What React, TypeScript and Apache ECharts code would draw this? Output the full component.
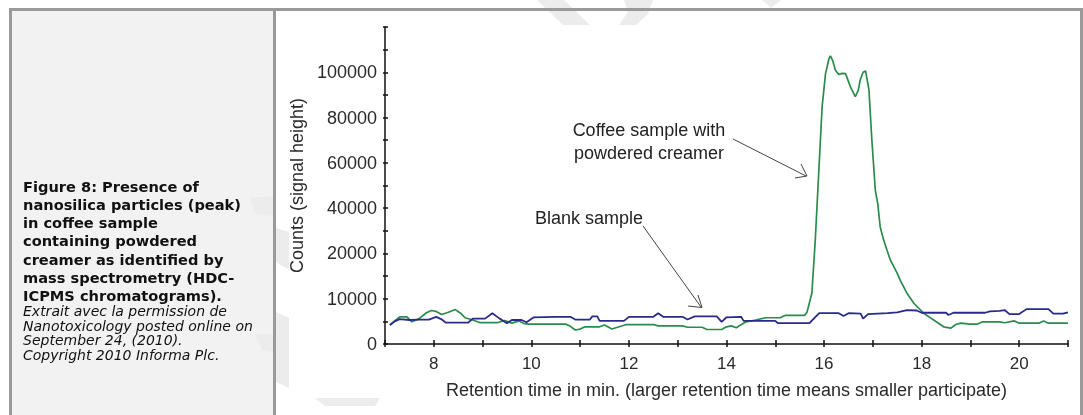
import React, { useEffect, useRef } from "react";
import * as echarts from "echarts";

// ---- data ----
const blankTime = [7.1, 7.2, 7.3, 7.5, 7.7, 7.9, 8.05, 8.15, 8.25, 8.7, 8.8, 9.05, 9.2, 9.35, 9.5, 9.6, 9.8, 9.9, 10.05, 10.5, 10.8, 10.9, 11.2, 11.25, 11.35, 11.4, 11.9, 12.0, 12.5, 12.6, 12.7, 13.1, 13.2, 13.35, 13.8, 13.9, 14.0, 14.3, 14.35, 15.0, 15.05, 15.7, 15.8, 15.9, 16.3, 16.4, 16.5, 16.75, 16.8, 16.9, 17.3, 17.5, 17.7, 17.9, 18.0, 18.5, 18.55, 18.65, 19.3, 19.4, 19.6, 19.7, 19.8, 20.0, 20.15, 20.6, 20.7, 20.9, 21.0];
const blankCounts = [4200, 5000, 5500, 5300, 5400, 5400, 6000, 5500, 4700, 4700, 5600, 5600, 6800, 5600, 4600, 5300, 5300, 4800, 5900, 6000, 6000, 5400, 5400, 6100, 6100, 5100, 5100, 6000, 6000, 6800, 6000, 6000, 5400, 6100, 6100, 4900, 5900, 6000, 5100, 5100, 4600, 4600, 5700, 6800, 6800, 6200, 6800, 6700, 5600, 6600, 6800, 7000, 7500, 7400, 6900, 6900, 6400, 6900, 6900, 7200, 7300, 7500, 6600, 6600, 7700, 7700, 6700, 6700, 7000];

const coffeeTime = [7.1, 7.3, 7.45, 7.55, 7.7, 7.85, 7.95, 8.05, 8.16, 8.3, 8.44, 8.55, 8.64, 8.8, 8.95, 9.3, 9.45, 9.6, 9.75, 9.85, 9.95, 10.7, 10.8, 10.9, 11.0, 11.1, 11.4, 11.5, 11.65, 11.8, 11.95, 12.5, 12.6, 13.1, 13.2, 13.5, 13.6, 13.9, 14.0, 14.1, 14.2, 14.4, 14.6, 14.8, 15.1, 15.2, 15.6, 15.65, 15.75, 15.82, 15.89, 15.96, 16.03, 16.1, 16.13, 16.18, 16.23, 16.3, 16.37, 16.44, 16.54, 16.64, 16.7, 16.74, 16.8, 16.85, 16.92, 16.98, 17.05, 17.1, 17.15, 17.22, 17.29, 17.36, 17.43, 17.5, 17.56, 17.7, 17.84, 18.04, 18.15, 18.3, 18.45, 18.6, 18.7, 18.8, 19.0, 19.15, 19.25, 19.6, 19.7, 19.9, 20.0, 20.4, 20.5, 20.6, 21.0];
const coffeeCounts = [4200, 6000, 6000, 4900, 5600, 6900, 7400, 7200, 6500, 7000, 7600, 6800, 5800, 5300, 4700, 4700, 5200, 4600, 5100, 4500, 4400, 4400, 3900, 3100, 3300, 3800, 3800, 4200, 3300, 3800, 4300, 4300, 4000, 4000, 3700, 3700, 3200, 3200, 3800, 4000, 3600, 4900, 5300, 5800, 5800, 6300, 6300, 7000, 11200, 26000, 55400, 84800, 99400, 106000, 107200, 105000, 101000, 99000, 99500, 99400, 93600, 89200, 92000, 96600, 100000, 100600, 92200, 70000, 48000, 42000, 31800, 26000, 21400, 18500, 17100, 15600, 14100, 11200, 9000, 6800, 6000, 4900, 3800, 3500, 4300, 4600, 4400, 4400, 4900, 4900, 4700, 5100, 4600, 4600, 5100, 4600, 4600];

const yTickLabels = ["0", "10000", "20000", "40000", "60000", "80000", "100000", ""];
const xTickLabels = ["8", "10", "12", "14", "16", "18", "20"];

const caption = [
  "Figure 8: Presence of",
  "nanosilica particles (peak)",
  "in coffee sample",
  "containing powdered",
  "creamer as identified by",
  "mass spectrometry (HDC-",
  "ICPMS chromatograms).",
];
const credit = [
  "Extrait avec la permission de",
  "Nanotoxicology posted online on",
  "September 24, (2010).",
  "Copyright 2010 Informa Plc.",
];

// broken y scale: 0-20000 in steps of 10000, then steps of 20000
const toAxis = (v: number) => (v <= 20000 ? v / 10000 : 2 + (v - 20000) / 20000);

const SANS = "'Liberation Sans', Arial, sans-serif";
const CAP = "'DejaVu Sans', Verdana, sans-serif";
const WM = "#ececec";

export default function App() {
  const ref = useRef<HTMLDivElement>(null);
  useEffect(() => {
    if (!ref.current) return;
    const chart = echarts.init(ref.current, null, { renderer: "svg" });
    const blank = blankTime.map((t, i) => [t, toAxis(blankCounts[i])]);
    const coffee = coffeeTime.map((t, i) => [t, toAxis(coffeeCounts[i])]);

    const capCenters = [186, 204.3, 222.6, 240.9, 259.2, 277.5, 295.8];
    const creditCenters = [311, 325.5, 340, 354.5];

    const graphic: any[] = [
      // panels
      { type: "rect", z: -20, shape: { x: 12, y: 11, width: 261, height: 404 }, style: { fill: "#f2f2f2" } },
      { type: "rect", z: -20, shape: { x: 276, y: 11, width: 804, height: 404 }, style: { fill: "#ffffff" } },
      // watermark fragments
      { type: "polygon", z: -19, shape: { points: [[250, 198], [273, 196], [273, 216], [256, 214]] }, style: { fill: WM } },
      { type: "polygon", z: -19, shape: { points: [[255, 334], [273, 334], [273, 352], [262, 350]] }, style: { fill: WM } },
      { type: "polygon", z: -19, shape: { points: [[276, 228], [289, 232], [289, 270], [276, 262]] }, style: { fill: WM } },
      { type: "polygon", z: -19, shape: { points: [[276, 312], [289, 318], [289, 388], [276, 382]] }, style: { fill: WM } },
      { type: "polygon", z: -19, shape: { points: [[315, 398], [380, 398], [375, 406], [325, 406]] }, style: { fill: WM } },
      { type: "polygon", z: -19, shape: { points: [[537, 0], [564, 0], [590, 25], [563, 25]] }, style: { fill: WM } },
      { type: "polygon", z: -19, shape: { points: [[624, 0], [653, 0], [648, 14], [636, 25], [619, 25], [628, 12]] }, style: { fill: WM } },
      { type: "polygon", z: -19, shape: { points: [[762, 0], [781, 0], [771, 8]] }, style: { fill: WM } },
      // borders
      { type: "rect", z: 50, shape: { x: 9, y: 8, width: 1074, height: 3 }, style: { fill: "#9a9a9a" } },
      { type: "rect", z: 50, shape: { x: 9, y: 8, width: 3, height: 407 }, style: { fill: "#9a9a9a" } },
      { type: "rect", z: 50, shape: { x: 273, y: 8, width: 3, height: 407 }, style: { fill: "#9a9a9a" } },
      { type: "rect", z: 50, shape: { x: 1080, y: 8, width: 3, height: 407 }, style: { fill: "#9a9a9a" } },
      // annotations
      { type: "text", z: 60, x: 649, y: 130, style: { text: "Coffee sample with", font: `18px ${SANS}`, fill: "#222", align: "center", verticalAlign: "middle" } },
      { type: "text", z: 60, x: 649, y: 153, style: { text: "powdered creamer", font: `18px ${SANS}`, fill: "#222", align: "center", verticalAlign: "middle" } },
      { type: "line", z: 60, shape: { x1: 733, y1: 139, x2: 806, y2: 176 }, style: { stroke: "#444", lineWidth: 1 } },
      { type: "polyline", z: 60, shape: { points: [[801, 164], [807, 176], [795, 178]] }, style: { stroke: "#444", lineWidth: 1, fill: null } },
      { type: "text", z: 60, x: 589, y: 218, style: { text: "Blank sample", font: `18px ${SANS}`, fill: "#222", align: "center", verticalAlign: "middle" } },
      { type: "line", z: 60, shape: { x1: 643, y1: 226, x2: 701, y2: 307 }, style: { stroke: "#444", lineWidth: 1 } },
      { type: "polyline", z: 60, shape: { points: [[698, 295], [702, 307.5], [688, 306]] }, style: { stroke: "#444", lineWidth: 1, fill: null } },
    ];
    caption.forEach((s, i) =>
      graphic.push({ type: "text", z: 60, x: 23, y: capCenters[i], style: { text: s, font: `bold 14.6px ${CAP}`, fill: "#111", align: "left", verticalAlign: "middle" } })
    );
    credit.forEach((s, i) =>
      graphic.push({ type: "text", z: 60, x: 23, y: creditCenters[i], style: { text: s, font: `italic 14px ${CAP}`, fill: "#111", align: "left", verticalAlign: "middle" } })
    );

    const axisLine = { show: true, lineStyle: { color: "#111", width: 1.5 } };
    chart.setOption({
      animation: false,
      graphic,
      grid: { left: 385, right: 15, top: 27, bottom: 71, containLabel: false },
      xAxis: [
        {
          type: "value", min: 7, max: 21, interval: 1, position: "bottom",
          axisLine,
          axisTick: { show: true, inside: true, length: 4, lineStyle: { color: "#111", width: 1.5 } },
          axisLabel: {
            margin: 11, fontSize: 17, color: "#2a2a2a", fontFamily: SANS,
            formatter: (v: number) => (v % 2 === 0 ? xTickLabels[(v - 8) / 2] ?? "" : ""),
          },
          splitLine: { show: false },
          name: "Retention time in min. (larger retention time means smaller participate)",
          nameLocation: "middle", nameGap: 37,
          nameTextStyle: { fontSize: 18, color: "#2a2a2a", fontFamily: SANS },
        },
        {
          type: "value", min: 7, max: 21, interval: 1, position: "bottom",
          axisLine: { show: false },
          axisTick: { show: true, inside: false, length: 3, lineStyle: { color: "#111", width: 1.5 } },
          axisLabel: { show: false }, splitLine: { show: false },
        },
      ],
      yAxis: [
        {
          type: "value", min: 0, max: 7, interval: 1,
          axisLine,
          axisTick: { show: true, inside: true, length: 3, lineStyle: { color: "#111", width: 1.5 } },
          minorTick: { show: true, splitNumber: 2, length: 3, lineStyle: { color: "#111", width: 1.5 } },
          axisLabel: {
            margin: 8, fontSize: 18, color: "#2a2a2a", fontFamily: SANS,
            formatter: (v: number) => yTickLabels[Math.round(v)] ?? "",
          },
          splitLine: { show: false },
          name: "Counts (signal height)",
          nameLocation: "middle", nameGap: 77,
          nameTextStyle: { fontSize: 18, color: "#2a2a2a", fontFamily: SANS },
        },
        {
          type: "value", min: 0, max: 7, interval: 1, position: "left",
          axisLine: { show: false },
          axisTick: { show: true, inside: false, length: 2, lineStyle: { color: "#111", width: 1.5 } },
          minorTick: { show: true, splitNumber: 2, length: 2, lineStyle: { color: "#111", width: 1.5 } },
          axisLabel: { show: false }, splitLine: { show: false },
        },
      ],
      series: [
        {
          name: "Coffee sample with powdered creamer", type: "line", data: coffee,
          showSymbol: false, z: 3, lineStyle: { color: "#2a8c4c", width: 1.7 },
        },
        {
          name: "Blank sample", type: "line", data: blank,
          showSymbol: false, z: 4, lineStyle: { color: "#2a2a8a", width: 1.8 },
        },
      ],
    });
    return () => chart.dispose();
  }, []);
  return <div ref={ref} style={{ position: "fixed", left: 0, top: 0, width: 1083, height: 415 }} />;
}
